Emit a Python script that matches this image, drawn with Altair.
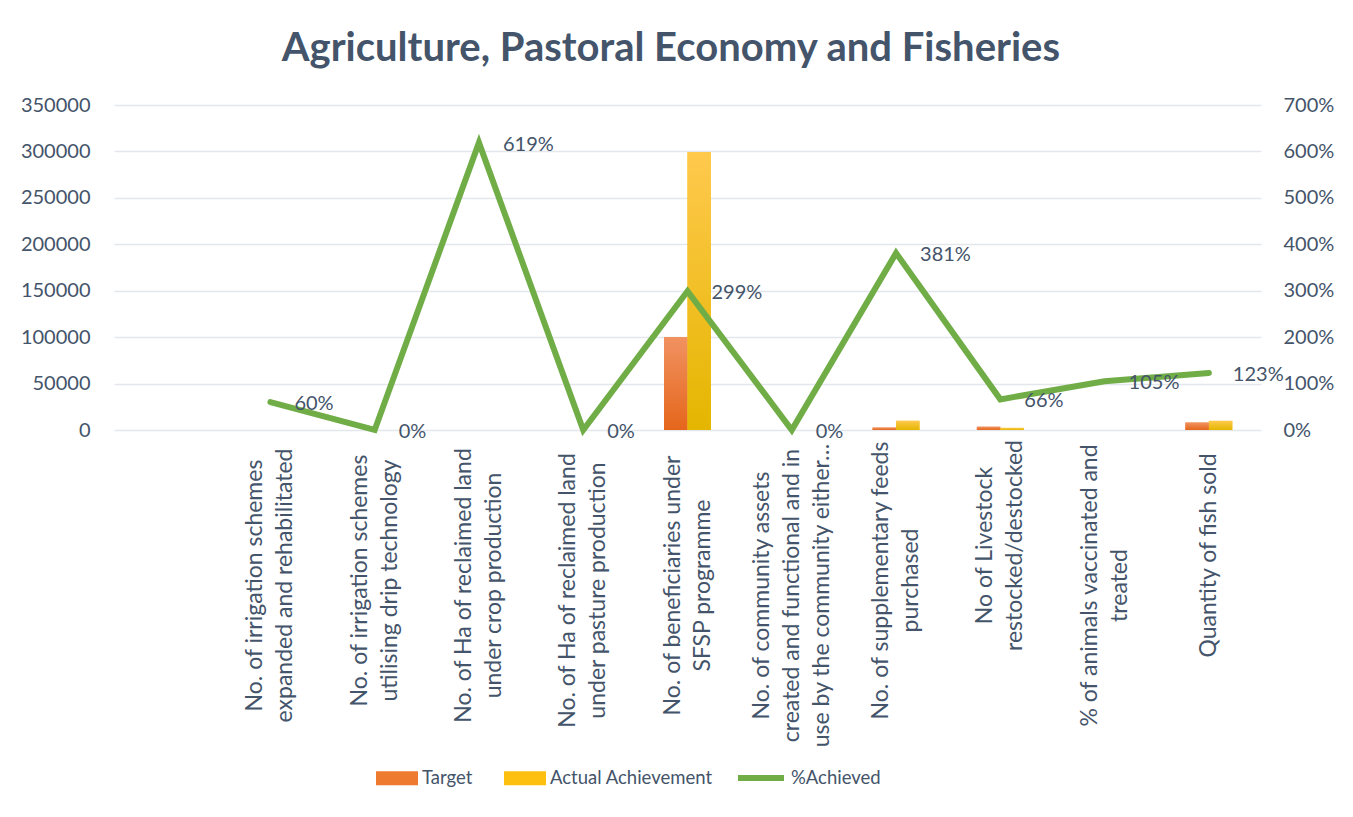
import altair as alt
import pandas as pd

categories = [
    " ",
    "No. of irrigation schemes|expanded and  rehabilitated",
    "No.  of irrigation schemes|utilising drip technology",
    "No. of Ha of reclaimed land|under crop production",
    "No.  of Ha of reclaimed land|under pasture production",
    "No.  of beneficiaries under|SFSP programme",
    "No. of community assets|created and functional and in|use by the community either\u2026",
    "No. of supplementary feeds|purchased",
    "No of Livestock|restocked/destocked",
    "% of animals vaccinated and|treated",
    "Quantity of fish sold",
]
target = [None, 5, 2, 5, 5, 100000, 10, 2600, 3500, 20, 8000]
actual = [None, 3, 0, 31, 0, 299000, 0, 9900, 2300, 21, 9840]
pct = [None, 0.60, 0.00, 6.19, 0.00, 2.99, 0.00, 3.81, 0.66, 1.05, 1.23]
pct_labels = ["", "60%", "0%", "619%", "0%", "299%", "0%", "381%", "66%", "105%", "123%"]
series_names = ["Target", "Actual Achievement"]
left_ticks = [0, 50000, 100000, 150000, 200000, 250000, 300000, 350000]
right_ticks = [0, 1, 2, 3, 4, 5, 6, 7]

TXT = "#44546A"
FONT = "Lato"
CAT_FS = 23
LINE_H = 30
CHAR_W = 10.0

rows = []
for c, t, a in zip(categories, target, actual):
    if t is not None:
        rows.append({"category": c, "series": "Target", "value": t})
        rows.append({"category": c, "series": "Actual Achievement", "value": a})
bars_df = pd.DataFrame(rows)

line_df = pd.DataFrame([
    {"category": c, "pct": p, "label": l, "series": "%Achieved"}
    for c, p, l in zip(categories, pct, pct_labels) if p is not None
])

# per-label layout: centre each wrapped label block on its tick, lines centred (Excel style)
pad_conds, off_conds = [], []
for c in categories:
    parts = c.split("|")
    w = max(len(p) for p in parts) * CHAR_W
    test = "datum.value === '" + c + "'"
    pad_conds.append({"test": test, "value": round(20 + w / 2, 1)})
    off_conds.append({"test": test, "value": -(len(parts) - 1) * LINE_H / 2})

x_enc = alt.X(
    "category:N",
    sort=categories,
    scale=alt.Scale(domain=categories, paddingInner=0.55, paddingOuter=0.275),
    axis=alt.Axis(
        title=None, labelAngle=-90, labelAlign="center", labelBaseline="middle",
        labelExpr="split(datum.label, '|')",
        labelFont=FONT, labelFontSize=CAT_FS, labelColor=TXT, labelLineHeight=LINE_H,
        labelPadding={"condition": pad_conds, "value": 20},
        labelOffset={"condition": off_conds, "value": 0},
        domain=False, ticks=False, labelLimit=400,
    ),
)
xoff = alt.XOffset("series:N", scale=alt.Scale(domain=series_names))
y_left = alt.Y(
    "value:Q",
    scale=alt.Scale(domain=[0, 350000], nice=False),
    axis=alt.Axis(
        title=None, values=left_ticks, format="d", domain=False, ticks=False,
        labelFont=FONT, labelFontSize=20, labelColor=TXT, labelPadding=24,
        minExtent=106, maxExtent=106, gridColor="#E3E6EB", gridWidth=1.5,
    ),
)

base_bars = alt.Chart(bars_df).mark_bar().encode(
    x=x_enc, xOffset=xoff, y=y_left,
    fill=alt.Fill(
        "series:N",
        scale=alt.Scale(domain=series_names, range=["#EE7A30", "#FDC010"]),
        legend=alt.Legend(
            title=None, orient="none", legendX=262, legendY=652, direction="horizontal",
            symbolType="M-1,-0.333H1V0.333H-1Z", symbolSize=1764, symbolStrokeWidth=0,
            labelFont=FONT, labelFontSize=18.5, labelColor=TXT, columnPadding=31, labelOffset=4,
            labelLimit=400,
        ),
    ),
)

def grad(top, bottom):
    return alt.Gradient(
        gradient="linear",
        stops=[alt.GradientStop(color=top, offset=0), alt.GradientStop(color=bottom, offset=1)],
        x1=0, x2=0, y1=0, y2=1,
    )

grad_t = alt.Chart(bars_df).transform_filter(alt.datum.series == "Target").mark_bar(
    fill=grad("#F19261", "#E5661B")
).encode(x=x_enc, xOffset=xoff, y=y_left)
grad_a = alt.Chart(bars_df).transform_filter(alt.datum.series == "Actual Achievement").mark_bar(
    fill=grad("#FFC94D", "#E4B600")
).encode(x=x_enc, xOffset=xoff, y=y_left)

bars = alt.layer(base_bars, grad_t, grad_a)

y_right = alt.Y(
    "pct:Q",
    scale=alt.Scale(domain=[0, 7], nice=False),
    axis=alt.Axis(
        title=None, orient="right", values=right_ticks, format=".0%", domain=False, ticks=False,
        grid=False, labelFont=FONT, labelFontSize=20, labelColor=TXT, labelPadding=22,
    ),
)

line = alt.Chart(line_df).mark_line(strokeWidth=6, strokeCap="round", strokeJoin="miter").encode(
    x=x_enc, y=y_right,
    stroke=alt.Stroke(
        "series:N",
        scale=alt.Scale(domain=["%Achieved"], range=["#70AD47"]),
        legend=alt.Legend(
            title=None, orient="none", legendX=621, legendY=647, direction="horizontal",
            symbolType="stroke", symbolSize=2116, symbolStrokeWidth=6,
            labelFont=FONT, labelFontSize=18.5, labelColor=TXT, labelOffset=4, labelLimit=400,
        ),
    ),
)
labels = alt.Chart(line_df).mark_text(
    align="left", baseline="middle", dx=24, dy=2, font=FONT, fontSize=20, color=TXT
).encode(x=x_enc, y=y_right, text="label:N")

right = alt.layer(line, labels)

chart = alt.layer(bars, right).resolve_scale(y="independent").properties(
    width=1147, height=325,
    title=alt.TitleParams(
        "Agriculture, Pastoral Economy and Fisheries", font=FONT, fontSize=40,
        fontWeight="bold", color=TXT, anchor="middle", frame="bounds", offset=26,
    ),
    padding={"left": 0, "top": 21, "right": 5, "bottom": 5},
).configure_view(stroke=None)

chart.save("out.html", embed_options={"renderer": "svg", "actions": False})
